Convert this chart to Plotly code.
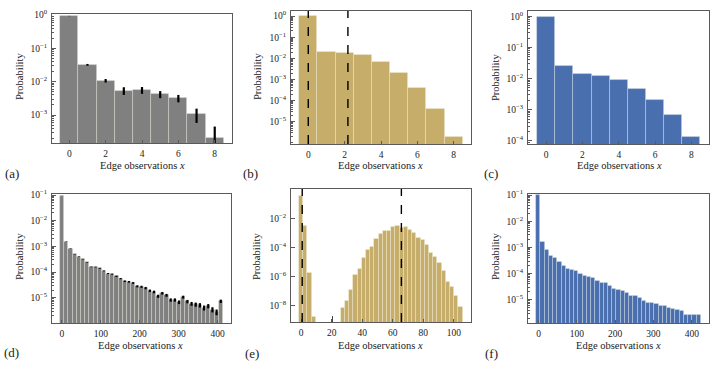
import numpy as np
import plotly.graph_objects as go

# ---------- data ----------
# (a)/(b)/(c): edge observations 0..8
ab_x = [0, 1, 2, 3, 4, 5, 6, 7, 8]
a_prob = [0.93, 0.032, 0.0107, 0.0054, 0.0056, 0.0042, 0.0032, 0.00105, 0.00021]
a_err_up = [0.01, 0.002, 0.0013, 0.0014, 0.0013, 0.001, 0.0008, 0.0005, 0.00024]
a_err_dn = [0.01, 0.002, 0.0013, 0.0014, 0.0013, 0.001, 0.0008, 0.00047, 0.0002]
b_prob = [0.96, 0.019, 0.018, 0.014, 0.0066, 0.0021, 0.00038, 4.1e-5, 2.0e-6]
b_dashed = [0, 2.18]
c_prob = [0.95, 0.025, 0.0138, 0.0123, 0.0087, 0.0046, 0.0021, 0.00066, 0.000132]

# (d): 39 equal-width bins
d_bin_lo, d_bin_hi = -4.3, 413.6
d_prob = [0.094, 1.55e-3, 8.3e-4, 5.0e-4, 4.0e-4, 3.2e-4, 2.4e-4, 1.6e-4, 1.58e-4, 1.41e-4,
          1.12e-4, 8.8e-5, 8.3e-5, 6.9e-5, 5.6e-5, 4.4e-5, 4.2e-5, 3.8e-5, 2.8e-5, 2.7e-5,
          2.4e-5, 1.9e-5, 1.7e-5, 1.16e-5, 1.51e-5, 1.26e-5, 8.3e-6, 8.3e-6, 6.8e-6, 1.07e-5,
          7.2e-6, 5.9e-6, 5.5e-6, 5.2e-6, 4.1e-6, 4.8e-6, 3.5e-6, 2.8e-6, 7.4e-6]
d_err = [5e-4, 3e-5, 2e-5, 1e-5, 1e-5, 8e-6, 6e-6, 5e-6, 5e-6, 5e-6,
         4e-6, 4e-6, 4e-6, 4e-6, 3e-6, 3e-6, 3e-6, 3e-6, 2.5e-6, 2.5e-6,
         2.5e-6, 2e-6, 2e-6, 1.6e-6, 1.8e-6, 1.6e-6, 1.2e-6, 1.2e-6, 1.1e-6, 1.4e-6,
         1.1e-6, 1e-6, 1e-6, 1e-6, 9e-7, 9e-7, 8e-7, 7e-7, 1.1e-6]

# (e): 39 equal-width bins (empty ones left out)
e_bin_lo, e_bin_hi = -1.5, 105.7
e_prob = [0.36, 3.1e-3, 1.7e-6, 1.7e-9, 0, 0, 0, 0, 0, 0,
          6.6e-9, 1.9e-8, 1.15e-7, 1.15e-6, 3.0e-6, 1.8e-5, 6.3e-5, 1.07e-4, 3.8e-4, 7.9e-4,
          1.35e-3, 1.3e-3, 2.4e-3, 2.7e-3, 2.05e-3, 2.4e-3, 1.66e-3, 9.3e-4, 4.3e-4, 3.3e-4,
          1.5e-4, 4.0e-5, 2.3e-5, 8.1e-6, 2.2e-6, 4.1e-7, 1.8e-7, 4.6e-8, 7.4e-9]
e_spike_x, e_spike_y = [20.5], [1.8e-9]
e_dashed = [0.65, 65.6]

# (f): 39 equal-width bins
f_bin_lo, f_bin_hi = -6.0, 423.6
f_prob = [0.1, 1.65e-3, 8.2e-4, 4.7e-4, 3.8e-4, 2.7e-4, 2.0e-4, 1.5e-4, 1.4e-4, 1.2e-4,
          1.0e-4, 7.9e-5, 7.7e-5, 6.6e-5, 5.2e-5, 4.4e-5, 4.3e-5, 3.4e-5, 2.6e-5, 2.4e-5,
          2.1e-5, 1.8e-5, 1.38e-5, 1.34e-5, 1.16e-5, 8.9e-6, 7.7e-6, 7.5e-6, 7.1e-6, 6.0e-6,
          5.6e-6, 4.7e-6, 4.4e-6, 3.9e-6, 3.6e-6, 2.6e-6, 2.6e-6, 2.6e-6, 2.5e-6]

GREY = "#808080"
GOLD = "#C6AD6A"
BLUE = "#4A6FAF"
EDGE = "rgba(255,255,245,0.35)"
FONT = "Liberation Serif"
W, H = 724, 367


def bins(lo, hi, n):
    edges = np.linspace(lo, hi, n + 1)
    return (edges[:-1] + edges[1:]) / 2, edges[1] - edges[0]


def sup(e):
    return "10<sup>%s</sup>" % (str(e).replace("-", "\u2212"))


fig = go.Figure()

# panel frames in pixels: (left, right, top, bottom)
panels = {
    "a": dict(n=1, box=(52, 232, 14, 143), xr=[-0.95, 8.95], yr=[-3.84, 0.03],
              xt=[0, 2, 4, 6, 8], yt=[0, -1, -2, -3], lab=(11.5, 173),
              ytitle=(19, 77), xtitle=(142, 165)),
    "b": dict(n=2, box=(291, 471, 11, 144), xr=[-0.95, 8.95], yr=[-6.05, 0.24],
              xt=[0, 2, 4, 6, 8], yt=[0, -1, -2, -3, -4, -5], lab=(251, 173),
              ytitle=(257, 77), xtitle=(380, 165)),
    "c": dict(n=3, box=(528, 709, 11, 144), xr=[-1.0, 8.97], yr=[-4.1, 0.17],
              xt=[0, 2, 4, 6, 8], yt=[0, -1, -2, -3, -4], lab=(491, 173),
              ytitle=(495, 77), xtitle=(619, 165.5)),
    "d": dict(n=4, box=(52, 231, 194, 323), xr=[-25.2, 434.5], yr=[-5.98, -0.96],
              xt=[0, 100, 200, 300, 400], yt=[-1, -2, -3, -4, -5], lab=(11.5, 352),
              ytitle=(19, 257), xtitle=(140, 345.5)),
    "e": dict(n=5, box=(291, 471, 189, 322), xr=[-6.7, 111.2], yr=[-9.14, 0.01],
              xt=[0, 20, 40, 60, 80, 100], yt=[-2, -4, -6, -8], lab=(252, 353),
              ytitle=(256, 257), xtitle=(380, 345.5)),
    "f": dict(n=6, box=(528, 709, 194, 323), xr=[-27.5, 445.0], yr=[-5.89, -0.96],
              xt=[0, 100, 200, 300, 400], yt=[-1, -2, -3, -4, -5], lab=(491, 353),
              ytitle=(495, 256), xtitle=(618, 345.5)),
}


def axn(n):
    return ("x" if n == 1 else "x%d" % n), ("y" if n == 1 else "y%d" % n)


def add_bars(n, x, y, width, color, err=None):
    xa, ya = axn(n)
    kw = {}
    if err is not None:
        kw["error_y"] = dict(type="data", array=err[0], arrayminus=err[1], color="black",
                             thickness=2.2, width=0, visible=True)
    fig.add_trace(go.Bar(x=x, y=y, width=width, marker=dict(color=color, line=dict(color=EDGE, width=0.8)),
                         xaxis=xa, yaxis=ya, showlegend=False, **kw))


add_bars(1, ab_x, a_prob, 1.0, GREY, (a_err_up, a_err_dn))
add_bars(2, ab_x, b_prob, 1.0, GOLD)
add_bars(3, ab_x, c_prob, 1.0, BLUE)

dx, dw = bins(d_bin_lo, d_bin_hi, len(d_prob))
add_bars(4, dx, d_prob, dw, GREY, (d_err, d_err))

ex, ew = bins(e_bin_lo, e_bin_hi, len(e_prob))
e_keep = [i for i, v in enumerate(e_prob) if v > 0]
add_bars(5, ex[e_keep], [e_prob[i] for i in e_keep], ew, GOLD)
fig.add_trace(go.Bar(x=e_spike_x, y=e_spike_y, width=0.35, marker=dict(color="#444", line=dict(width=0)),
                     xaxis="x5", yaxis="y5", showlegend=False))

fx, fw = bins(f_bin_lo, f_bin_hi, len(f_prob))
add_bars(6, fx, f_prob, fw, BLUE)

# dashed reference lines
for n, xs in ((2, b_dashed), (5, e_dashed)):
    xa, ya = axn(n)
    for xv in xs:
        fig.add_shape(type="line", x0=xv, x1=xv, y0=0, y1=1, xref=xa, yref=ya + " domain",
                      line=dict(color="black", width=1.4, dash="dash"), layer="above")

layout = {}
for key, p in panels.items():
    n = p["n"]
    l, r, t, b = p["box"]
    xname = "xaxis" if n == 1 else "xaxis%d" % n
    yname = "yaxis" if n == 1 else "yaxis%d" % n
    xa, ya = axn(n)
    common = dict(showline=True, mirror=True, linecolor="#5a5a5a", linewidth=1, showgrid=False,
                  zeroline=False, ticks="inside", ticklen=3.5, tickwidth=0.8, tickcolor="#5a5a5a",
                  automargin=False, tickfont=dict(family=FONT, size=9.5, color="#222"))
    layout[xname] = dict(common, domain=[l / W, r / W], range=p["xr"], anchor=ya,
                         tickvals=p["xt"], ticktext=[str(v) for v in p["xt"]], ticklabelstandoff=2)
    yax = dict(common, domain=[1 - b / H, 1 - t / H], range=p["yr"], anchor=xa, type="log",
               tickvals=[10.0 ** e for e in p["yt"]], ticktext=[sup(e) for e in p["yt"]],
               ticklabelstandoff=2)
    if key != "e":
        yax["minor"] = dict(ticks="inside", ticklen=2, tickwidth=0.6, tickcolor="#5a5a5a",
                            dtick="D1", showgrid=False)
    layout[yname] = yax

    txt = dict(xref="paper", yref="paper", showarrow=False, xanchor="center", yanchor="middle")
    fig.add_annotation(x=p["lab"][0] / W, y=1 - p["lab"][1] / H, text="(%s)" % key,
                       font=dict(family=FONT, size=13, color="#222"), **txt)
    fig.add_annotation(x=p["ytitle"][0] / W, y=1 - p["ytitle"][1] / H, text="Probability",
                       textangle=-90, font=dict(family=FONT, size=10.5, color="#222"), **txt)
    fig.add_annotation(x=p["xtitle"][0] / W, y=1 - p["xtitle"][1] / H,
                       text="Edge observations <i>x</i>",
                       font=dict(family=FONT, size=10.5, color="#222"), **txt)

fig.update_layout(width=W, height=H, margin=dict(l=0, r=0, t=0, b=0, autoexpand=False), bargap=0,
                  plot_bgcolor="white", paper_bgcolor="white", **layout)

# page body margin would otherwise shift the figure by 8px
fig.write_html("out.html", config={"displayModeBar": False},
               post_script="document.body.style.margin='0px';")
